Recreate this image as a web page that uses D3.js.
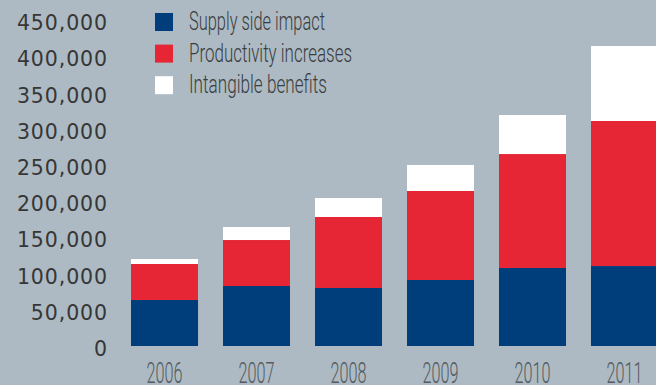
<!DOCTYPE html>
<html>
<head>
<meta charset="utf-8">
<script src="https://cdn.jsdelivr.net/npm/d3@7"></script>
<style>
  html, body { margin: 0; padding: 0; background: #adbac3; }
  svg { display: block; }
</style>
</head>
<body>
<svg id="chart" width="656" height="385"></svg>
<script>
// Annual totals by benefit type
const years = ["2006", "2007", "2008", "2009", "2010", "2011"];
const supplySide = [63500, 82800, 80100, 91100, 107700, 110400];
const productivity = [49700, 63500, 98000, 122900, 157300, 200200];
const intangible = [6900, 18000, 26200, 35900, 53900, 103500];
const yTicks = [0, 50000, 100000, 150000, 200000, 250000, 300000, 350000, 400000, 450000];

const seriesNames = ["Supply side impact", "Productivity increases", "Intangible benefits"];
const seriesKeys = ["supply", "productivity", "intangible"];
const colors = ["#003d7b", "#e62634", "#ffffff"];

const rows = years.map((y, i) => ({
  year: y,
  supply: supplySide[i],
  productivity: productivity[i],
  intangible: intangible[i]
}));

const svg = d3.select("#chart");

const x = d3.scaleBand()
  .domain(years)
  .range([118.5, 670.5])
  .paddingInner(0.2717)
  .paddingOuter(0.136);

const y = d3.scaleLinear()
  .domain([0, 450000])
  .range([346, 346 - 450000 * 0.0007244]);

const stacked = d3.stack().keys(seriesKeys)(rows);

svg.append("g")
  .selectAll("g")
  .data(stacked)
  .join("g")
  .attr("fill", (d, i) => colors[i])
  .selectAll("rect")
  .data(d => d)
  .join("rect")
  .attr("x", d => x(d.data.year))
  .attr("width", x.bandwidth())
  .attr("y", d => y(d[1]))
  .attr("height", d => y(d[0]) - y(d[1]));

// Y axis labels (no line, no ticks)
const yAxis = d3.axisLeft(y)
  .tickValues(yTicks)
  .tickFormat(d3.format(","))
  .tickSize(0)
  .tickPadding(0);

const gy = svg.append("g")
  .attr("transform", "translate(108,3)")
  .call(yAxis);
gy.select(".domain").remove();
gy.selectAll("text")
  .attr("fill", "#363636")
  .style("font-family", "'DejaVu Sans', sans-serif")
  .style("font-size", "20.5px")
  .style("letter-spacing", "0.9px");

// X axis labels in a narrow face
const xAxis = d3.axisBottom(x).tickSize(0).tickPadding(0);
const gx = svg.append("g")
  .attr("transform", "translate(0,383)")
  .call(xAxis);
gx.select(".domain").remove();
gx.selectAll("text")
  .attr("dy", 0)
  .attr("fill", "#555b60")
  .attr("textLength", 36)
  .attr("lengthAdjust", "spacingAndGlyphs")
  .style("font-family", "Roboto, sans-serif")
  .style("font-weight", 300)
  .style("font-size", "30px");

// Legend
const legendWidths = [136, 163, 138];
const legend = svg.append("g").attr("transform", "translate(155,13)");
const items = legend.selectAll("g")
  .data(seriesNames)
  .join("g")
  .attr("transform", (d, i) => `translate(0,${i * 31.6})`);
items.append("rect")
  .attr("width", 18)
  .attr("height", 18)
  .attr("fill", (d, i) => colors[i]);
items.append("text")
  .attr("x", 34)
  .attr("y", 17)
  .attr("fill", "#3a3d40")
  .attr("textLength", (d, i) => legendWidths[i])
  .attr("lengthAdjust", "spacingAndGlyphs")
  .style("font-family", "Roboto, sans-serif")
  .style("font-weight", 300)
  .style("font-size", "25px")
  .text(d => d);
</script>
</body>
</html>
